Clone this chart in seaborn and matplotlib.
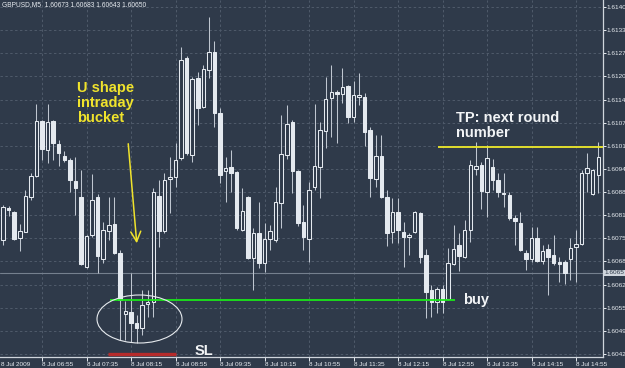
import numpy as np
import pandas as pd
import matplotlib
matplotlib.use("Agg")
import matplotlib.pyplot as plt
import matplotlib.transforms as mtransforms
from matplotlib.patches import Ellipse
import seaborn as sns

# ---------------- data (GBPUSD M5, 8 Jul 2009, 06:20 .. 15:15) ----------------
open_ = [1.60742, 1.60832, 1.60821, 1.60748, 1.60765, 1.60863, 1.60923, 1.61078, 1.60996, 1.61078,
         1.61013, 1.60979, 1.60968, 1.60909, 1.60863, 1.60666, 1.60756, 1.60863, 1.60688, 1.60767,
         1.60787, 1.60705, 1.60533, 1.60539, 1.60508, 1.60493, 1.60561, 1.60567, 1.60866, 1.60767,
         1.60914, 1.60920, 1.60974, 1.61256, 1.60982, 1.61200, 1.61118, 1.61222, 1.61273, 1.61101,
         1.60937, 1.60948, 1.60934, 1.60770, 1.60863, 1.60691, 1.60762, 1.60677, 1.60745, 1.60742,
         1.60846, 1.60982, 1.61075, 1.60937, 1.60793, 1.60745, 1.60892, 1.60948, 1.61050, 1.61143,
         1.61160, 1.61154, 1.61177, 1.61089, 1.61146, 1.61146, 1.61053, 1.60914, 1.60979, 1.60863,
         1.60765, 1.60821, 1.60765, 1.60750, 1.60765, 1.60818, 1.60700, 1.60601, 1.60567, 1.60604,
         1.60575, 1.60674, 1.60728, 1.60694, 1.60770, 1.60943, 1.60954, 1.60878, 1.60948, 1.60911,
         1.60875, 1.60869, 1.60804, 1.60790, 1.60705, 1.60688, 1.60748, 1.60683, 1.60717, 1.60700,
         1.60680, 1.60680, 1.60688, 1.60722, 1.60731, 1.60931, 1.60872, 1.60926]
high = [1.60841, 1.60838, 1.60824, 1.60787, 1.60883, 1.60931, 1.61126, 1.61081, 1.61126, 1.61081,
        1.61024, 1.60993, 1.60974, 1.60976, 1.60940, 1.60756, 1.60928, 1.60872, 1.60793, 1.60863,
        1.60863, 1.60714, 1.60570, 1.60649, 1.60530, 1.60601, 1.60601, 1.60889, 1.60911, 1.60931,
        1.60976, 1.61016, 1.61287, 1.61262, 1.61202, 1.61216, 1.61236, 1.61372, 1.61304, 1.61115,
        1.60976, 1.60996, 1.60937, 1.60889, 1.60866, 1.60776, 1.60849, 1.60790, 1.60784, 1.60892,
        1.61095, 1.61123, 1.61081, 1.60940, 1.60841, 1.60906, 1.61126, 1.61075, 1.61202, 1.61236,
        1.61166, 1.61228, 1.61180, 1.61191, 1.61214, 1.61157, 1.61061, 1.61039, 1.61039, 1.60883,
        1.60861, 1.60861, 1.60793, 1.60762, 1.60824, 1.60821, 1.60717, 1.60615, 1.60609, 1.60615,
        1.60719, 1.60784, 1.60762, 1.60798, 1.60968, 1.61019, 1.60962, 1.61010, 1.60971, 1.60931,
        1.60931, 1.60878, 1.60813, 1.60821, 1.60714, 1.60779, 1.60779, 1.60728, 1.60731, 1.60756,
        1.60694, 1.60686, 1.60748, 1.60770, 1.60940, 1.60988, 1.60943, 1.61019]
low = [1.60728, 1.60810, 1.60742, 1.60711, 1.60765, 1.60855, 1.60920, 1.60968, 1.60959, 1.60968,
       1.60951, 1.60962, 1.60878, 1.60813, 1.60671, 1.60663, 1.60750, 1.60649, 1.60677, 1.60742,
       1.60703, 1.60460, 1.60460, 1.60454, 1.60451, 1.60474, 1.60525, 1.60525, 1.60722, 1.60762,
       1.60818, 1.60892, 1.60968, 1.60982, 1.60962, 1.61067, 1.61115, 1.61200, 1.61061, 1.60903,
       1.60849, 1.60878, 1.60770, 1.60767, 1.60688, 1.60601, 1.60663, 1.60652, 1.60714, 1.60736,
       1.60776, 1.60971, 1.60875, 1.60782, 1.60714, 1.60680, 1.60883, 1.60861, 1.61002, 1.61033,
       1.61016, 1.61129, 1.61072, 1.61075, 1.61123, 1.61007, 1.60863, 1.60892, 1.60861, 1.60725,
       1.60734, 1.60734, 1.60666, 1.60700, 1.60762, 1.60677, 1.60522, 1.60525, 1.60536, 1.60536,
       1.60573, 1.60671, 1.60654, 1.60691, 1.60736, 1.60926, 1.60830, 1.60807, 1.60883, 1.60863,
       1.60835, 1.60798, 1.60728, 1.60711, 1.60657, 1.60680, 1.60680, 1.60674, 1.60587, 1.60671,
       1.60623, 1.60618, 1.60629, 1.60623, 1.60728, 1.60878, 1.60869, 1.60875]
close = [1.60835, 1.60827, 1.60745, 1.60767, 1.60866, 1.60923, 1.61078, 1.60999, 1.61075, 1.61016,
         1.60988, 1.60968, 1.60911, 1.60889, 1.60674, 1.60753, 1.60855, 1.60697, 1.60770, 1.60784,
         1.60705, 1.60573, 1.60541, 1.60508, 1.60493, 1.60558, 1.60567, 1.60878, 1.60767, 1.60911,
         1.60920, 1.60968, 1.61250, 1.60988, 1.61197, 1.61115, 1.61225, 1.61273, 1.61101, 1.60926,
         1.60945, 1.60931, 1.60776, 1.60824, 1.60691, 1.60762, 1.60677, 1.60745, 1.60767, 1.60849,
         1.60985, 1.61070, 1.60937, 1.60790, 1.60750, 1.60883, 1.60951, 1.61053, 1.61140, 1.61160,
         1.61154, 1.61174, 1.61089, 1.61151, 1.61151, 1.61047, 1.60917, 1.60979, 1.60863, 1.60762,
         1.60821, 1.60770, 1.60750, 1.60756, 1.60821, 1.60694, 1.60595, 1.60567, 1.60604, 1.60567,
         1.60677, 1.60717, 1.60697, 1.60770, 1.60954, 1.60951, 1.60880, 1.60974, 1.60911, 1.60878,
         1.60872, 1.60804, 1.60796, 1.60714, 1.60688, 1.60748, 1.60683, 1.60711, 1.60694, 1.60677,
         1.60674, 1.60649, 1.60719, 1.60731, 1.60931, 1.60945, 1.60940, 1.60976]

price_tick_labels = ['1.6140', '1.6133', '1.6127', '1.6120', '1.6114', '1.6107', '1.6101', '1.6094',
                     '1.6088', '1.6081', '1.6075', '1.6068', '1.6062', '1.6055', '1.6049', '1.6042']
time_tick_labels = ['8 Jul 06:55', '8 Jul 07:35', '8 Jul 08:15', '8 Jul 08:55', '8 Jul 09:35',
                    '8 Jul 10:15', '8 Jul 10:55', '8 Jul 11:35', '8 Jul 12:15', '8 Jul 12:55',
                    '8 Jul 13:35', '8 Jul 14:15', '8 Jul 14:55']
first_label = '8 Jul 2009'
header = 'GBPUSD,M5  1.60673 1.60683 1.60643 1.60650'

bid_price = 1.6065
buy_level = 1.60573
tp_level = 1.61004
sl_level = 1.60420

# ---------------- styling ----------------
BG = '#2f3a4a'
GRID = '#4f5b6b'
BODY = '#e4e9ef'
WICK = '#bfc6d0'
TXT = '#e8ecf1'
FS_TICK = 4.6

sns.set_theme(style='dark', rc={'axes.facecolor': BG, 'figure.facecolor': BG,
                                'savefig.facecolor': BG})
plt.rcParams['font.family'] = ['Liberation Sans', 'DejaVu Sans']

W, H = 625, 368
AXW, AXH = 603, 357
fig = plt.figure(figsize=(W / 100, H / 100), dpi=100)
ax = fig.add_axes([0, 1 - AXH / H, AXW / W, AXH / H])
ax.set_facecolor(BG)

times = pd.date_range('2009-07-08 06:20', periods=len(open_), freq='5min')
df = pd.DataFrame({'time': times, 'open': open_, 'high': high, 'low': low, 'close': close})
df['x'] = np.arange(len(df))
df['bull'] = df['close'] >= df['open']
df['bottom'] = df[['open', 'close']].min(axis=1)
df['height'] = (df['close'] - df['open']).abs().clip(lower=0.000018)

# limits (pixel-calibrated)
ax.set_xlim(-0.557, 107.85)
ax.set_ylim(1.604116, 1.614198)

# ticks / grid
ypos = np.linspace(1.6140, 1.6042, len(price_tick_labels))
xpos = 7 + 8 * np.arange(len(time_tick_labels))
ax.set_yticks(ypos)
ax.set_yticklabels(price_tick_labels)
ax.set_xticks(xpos)
ax.set_xticklabels(time_tick_labels, ha='left')
ax.yaxis.tick_right()
ax.grid(True, color=GRID, linestyle=(0, (2.5, 2.5)), linewidth=0.7)
ax.tick_params(axis='y', colors=TXT, labelsize=FS_TICK, length=2.0, width=0.7, pad=0.5,
               direction='out', right=True, left=False)
ax.tick_params(axis='x', colors=TXT, labelsize=FS_TICK, length=3, width=0.7, pad=0.8,
               direction='out', bottom=True)
for s in ['top', 'left']:
    ax.spines[s].set_visible(False)
for s in ['right', 'bottom']:
    ax.spines[s].set_color('#cfd5dc')
    ax.spines[s].set_linewidth(0.9)

# first date label (at the left edge)
ax.text(0.0015, -0.02, first_label, transform=ax.transAxes,
        fontsize=FS_TICK, color=TXT, ha='left', va='center', clip_on=False)

# bid line
ax.axhline(bid_price, color='#75808e', lw=0.8, zorder=1)
ax.text(1.003, bid_price, '1.6065',
        transform=mtransforms.blended_transform_factory(ax.transAxes, ax.transData),
        fontsize=FS_TICK, color=BG, ha='left', va='center', clip_on=False,
        bbox=dict(facecolor='#cfd5dc', edgecolor='none', pad=0.4))

# candles
ax.vlines(df['x'], df['low'], df['high'], color=WICK, lw=0.75, zorder=3)
bw = 0.62
bu = df[df['bull']]
be = df[~df['bull']]
ax.bar(bu['x'], bu['height'], bottom=bu['bottom'], width=bw, facecolor=BG,
       edgecolor=BODY, linewidth=0.75, zorder=4)
ax.bar(be['x'], be['height'], bottom=be['bottom'], width=bw, facecolor=BODY,
       edgecolor=BODY, linewidth=0.75, zorder=4)

# levels
ax.hlines(buy_level, 19.2, 81.2, color='#19e619', lw=1.3, zorder=5)
ax.hlines(tp_level, 78.2, 108, color='#eeea2a', lw=1.3, zorder=5)
ax.hlines(sl_level, 18.9, 31.1, color='#b52b2b', lw=2.4, zorder=5, clip_on=False)

def fr(px, py):
    return (px / AXW, 1 - py / AXH)

# ellipse around the U bottom
cx, cy = fr(139.5, 319)
ax.add_patch(Ellipse((cx, cy), 85 / AXW, 48 / AXH, transform=ax.transAxes,
                     fill=False, edgecolor='#e6eaee', lw=0.8, zorder=6))

# annotations
YEL = '#f0e32c'
ax.text(*fr(77, 81), 'U shape\nintraday\nbucket', transform=ax.transAxes, color=YEL,
        fontsize=10.5, fontweight='bold', ha='left', va='top', linespacing=1.1, zorder=7)
ax.annotate('', xy=fr(137, 246), xytext=fr(128, 141), xycoords='axes fraction',
            textcoords='axes fraction',
            arrowprops=dict(arrowstyle='->,head_length=0.6,head_width=0.3', color=YEL, lw=1.1),
            zorder=7)
ax.text(*fr(456, 111), 'TP: next round\nnumber', transform=ax.transAxes, color='#f2f4f6',
        fontsize=10.5, fontweight='bold', ha='left', va='top', linespacing=1.05, zorder=7)
ax.text(*fr(463, 300), 'buy', transform=ax.transAxes, color='#f2f4f6',
        fontsize=10.5, fontweight='bold', ha='left', va='center', zorder=7)
ax.text(*fr(195, 351), 'SL', transform=ax.transAxes, color='#f2f4f6',
        fontsize=10.5, fontweight='bold', ha='left', va='center', zorder=7, clip_on=False)

# header
fig.text(2 / W, 1 - 5 / H, header, fontsize=4.8, color=TXT, ha='left', va='center')

fig.savefig('out.png', dpi=100, facecolor=BG)
